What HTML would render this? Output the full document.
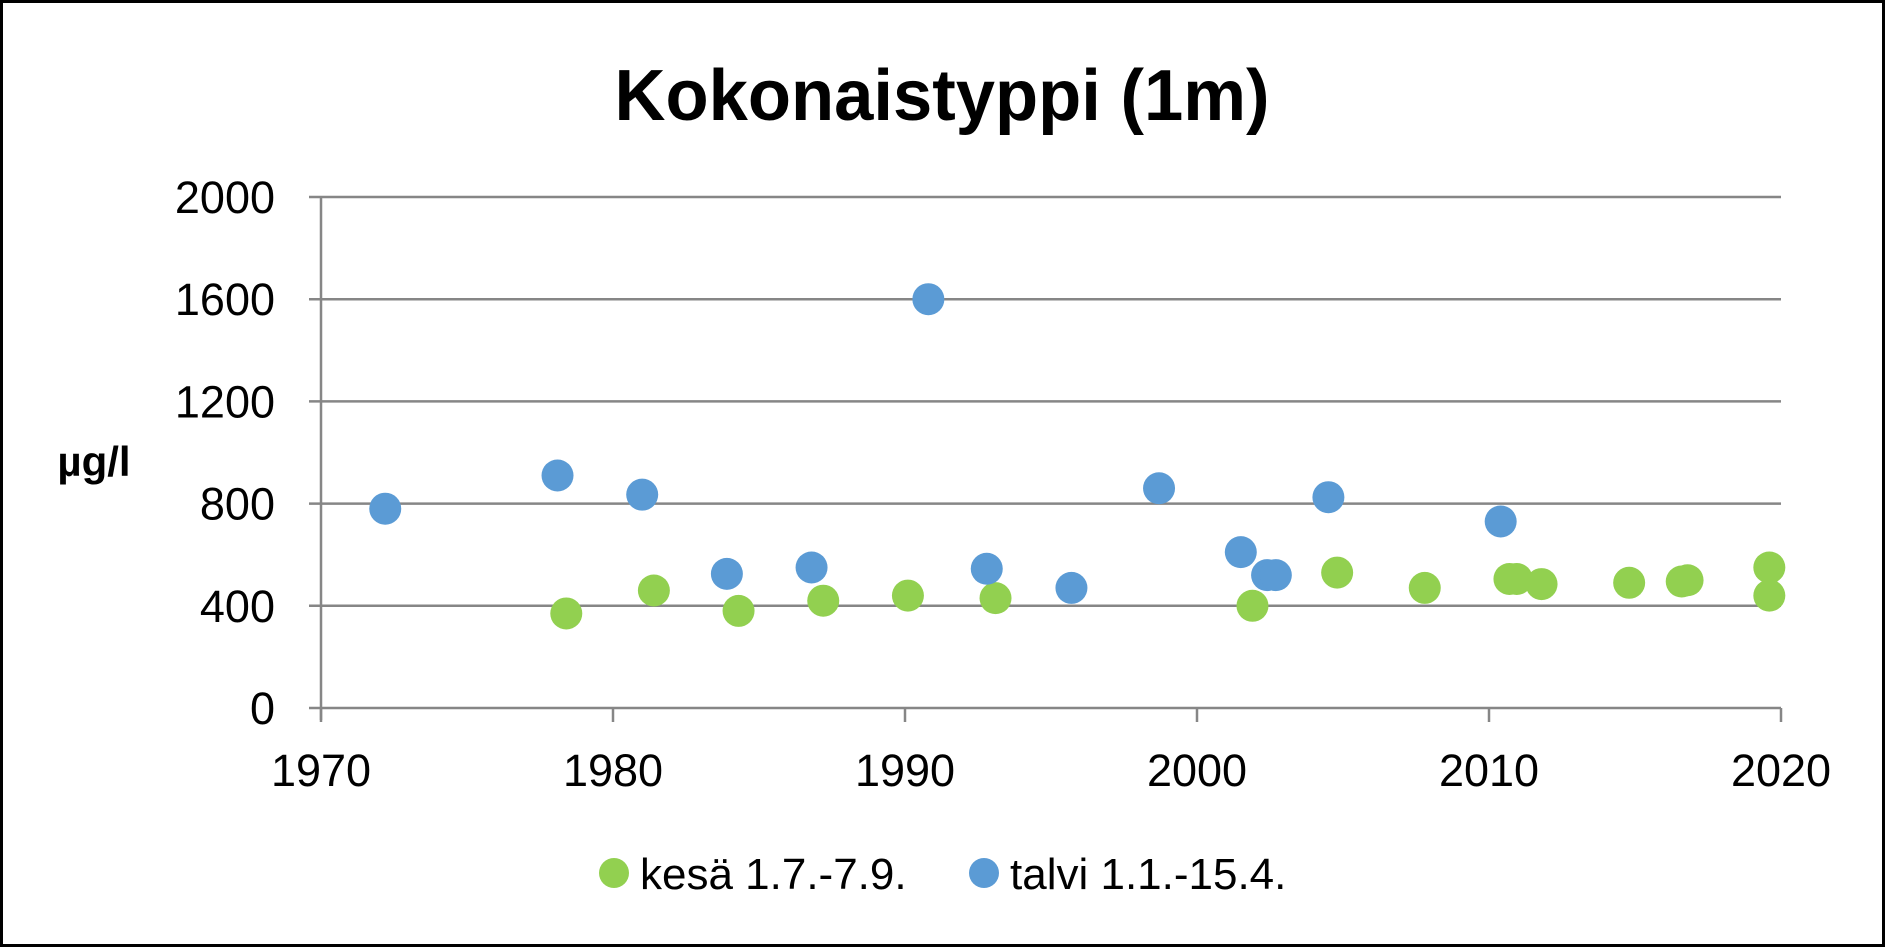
<!DOCTYPE html>
<html><head><meta charset="utf-8"><style>
html,body{margin:0;padding:0;background:#fff}
svg{display:block;font-family:"Liberation Sans",sans-serif}
</style></head><body>
<svg id="chart" width="1885" height="947">
<rect x="1.5" y="1.5" width="1882" height="944" fill="#fff" stroke="#000" stroke-width="3"/>
<text x="942" y="120" text-anchor="middle" font-size="72" font-weight="bold" textLength="655" lengthAdjust="spacingAndGlyphs">Kokonaistyppi (1m)</text>
<text x="94" y="476" text-anchor="middle" font-size="42" font-weight="bold">µg/l</text>
<g id="grid"></g><g id="axes"></g><g id="marks"></g>
<g>
<circle cx="614" cy="873" r="15" fill="#92d050"/>
<text x="640" y="889" font-size="44">kesä 1.7.-7.9.</text>
<circle cx="984" cy="873" r="15" fill="#5b9bd5"/>
<text x="1010" y="889" font-size="44">talvi 1.1.-15.4.</text>
</g>
</svg>
<script>
const xTicks=[1970,1980,1990,2000,2010,2020];
const yTicks=[0,400,800,1200,1600,2000];
const kesaYears=[1978.4,1981.4,1984.3,1987.2,1990.1,1993.1,2001.9,2004.8,2007.8,2010.7,2010.95,2011.8,2014.8,2016.6,2016.8,2019.6,2019.6];
const kesaValues=[370,460,380,420,440,430,400,530,470,505,505,485,490,495,500,550,440];
const talviYears=[1972.2,1978.1,1981.0,1983.9,1986.8,1990.8,1992.8,1995.7,1998.7,2001.5,2002.4,2002.7,2004.5,2010.4];
const talviValues=[780,910,835,525,550,1600,545,470,860,610,520,520,825,730];
const NS="http://www.w3.org/2000/svg";
const X0=321,X1=1781,Y0=708,Y1=197;
const xs=v=>X0+(v-1970)/50*(X1-X0);
const ys=v=>Y0-(v/2000)*(Y0-Y1);
function mk(t,a,p){const e=document.createElementNS(NS,t);for(const k in a)e.setAttribute(k,a[k]);document.getElementById(p).appendChild(e);return e;}
yTicks.forEach(v=>{
 const l=mk('line',{x1:X0-12,x2:X1,y1:ys(v),y2:ys(v),stroke:'#868686','stroke-width':2.5},'grid');
 
 
 const t=mk('text',{x:X0-46,y:ys(v)+16,'text-anchor':'end','font-size':45},'axes');
 t.textContent=v;
 
 
});
const ax=mk('line',{x1:X0,x2:X0,y1:Y1,y2:Y0+12,stroke:'#868686','stroke-width':2.5},'axes');


xTicks.forEach(v=>{
 const l=mk('line',{x1:xs(v),x2:xs(v),y1:Y0,y2:Y0+14,stroke:'#868686','stroke-width':2.5},'axes');
 
 
 const t=mk('text',{x:xs(v),y:Y0+78,'text-anchor':'middle','font-size':45},'axes');
 t.textContent=v;
 
 
});
kesaYears.forEach((yr,i)=>{
 const c=mk('circle',{cx:xs(yr),cy:ys(kesaValues[i]),r:16,fill:'#92d050'},'marks');
 
 
});
talviYears.forEach((yr,i)=>{
 const c=mk('circle',{cx:xs(yr),cy:ys(talviValues[i]),r:16,fill:'#5b9bd5'},'marks');
 
 
});
</script>
</body></html>
